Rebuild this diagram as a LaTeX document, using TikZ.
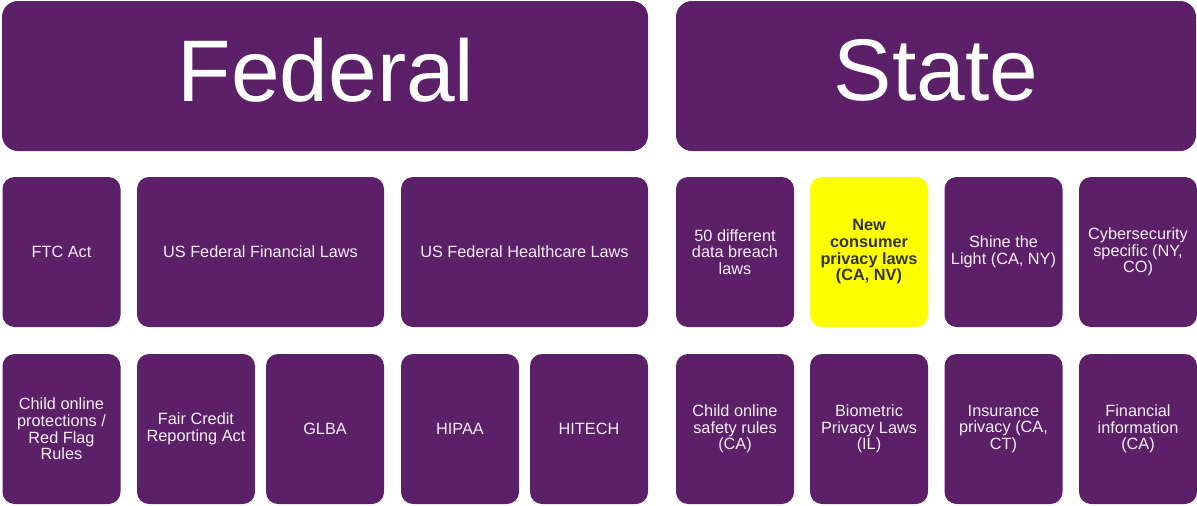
\documentclass[tikz,border=0pt]{standalone}
\usepackage{fontspec}
\setmainfont{Liberation Sans}
\definecolor{lawpurple}{HTML}{5B2067}
\definecolor{lawtext}{HTML}{F3EEF4}
\definecolor{hiyellow}{HTML}{FFFF00}
\definecolor{hitext}{HTML}{333333}
\begin{document}
\begin{tikzpicture}[x=1pt,y=-1pt,
  panel/.style={fill=lawpurple, rounded corners=16pt},
  heading/.style={inner sep=0pt, text=white, font=\fontsize{87.5}{87.5}\selectfont},
  law/.style={fill=lawpurple, draw=none, rounded corners=12pt, inner sep=0pt,
    minimum height=150pt, text=lawtext, align=center,
    font=\fontsize{16.3}{16.7}\selectfont},
  narrow/.style={law, minimum width=118pt},
  wide/.style={law, minimum width=247pt},
  highlight/.style={narrow, fill=hiyellow, text=hitext,
    font=\fontsize{16.3}{16.7}\selectfont\bfseries}]
\useasboundingbox (0,0) rectangle (1197,506);
% header panels
\fill[panel] (2,1) rectangle (648,151);
\fill[panel] (676,1) rectangle (1196,151);
\node[heading] (federal) at (326,70.5) {Federal};
\node[heading] (state) at (936,70.5) {State};
% federal, second row
\node[narrow] (ftc) at (61.5,252) {FTC Act};
\node[wide] (fin) at (260.5,252) {US Federal Financial Laws};
\node[wide] (health) at (524.5,252) {US Federal Healthcare Laws};
% federal, third row
\node[narrow] (child) at (61.5,429) {Child online\\protections /\\Red Flag\\Rules};
\node[narrow] (fcra) at (196,429) {Fair Credit\\Reporting Act};
\node[narrow] (glba) at (325,429) {GLBA};
\node[narrow] (hipaa) at (460,429) {HIPAA};
\node[narrow] (hitech) at (589,429) {HITECH};
% state, second row
\node[narrow] (breach) at (735,252) {50 different\\data breach\\laws};
\node[highlight] (consumer) at (869,252) {New\\consumer\\privacy laws\\(CA, NV)};
\node[narrow] (shine) at (1003.5,252) {Shine the\\Light (CA, NY)};
\node[narrow] (cyber) at (1138,252) {Cybersecurity\\specific (NY,\\CO)};
% state, third row
\node[narrow] (safety) at (735,429) {Child online\\safety rules\\(CA)};
\node[narrow] (bio) at (869,429) {Biometric\\Privacy Laws\\(IL)};
\node[narrow] (insur) at (1003.5,429) {Insurance\\privacy (CA,\\CT)};
\node[narrow] (finfo) at (1138,429) {Financial\\information\\(CA)};
\end{tikzpicture}
\end{document}
